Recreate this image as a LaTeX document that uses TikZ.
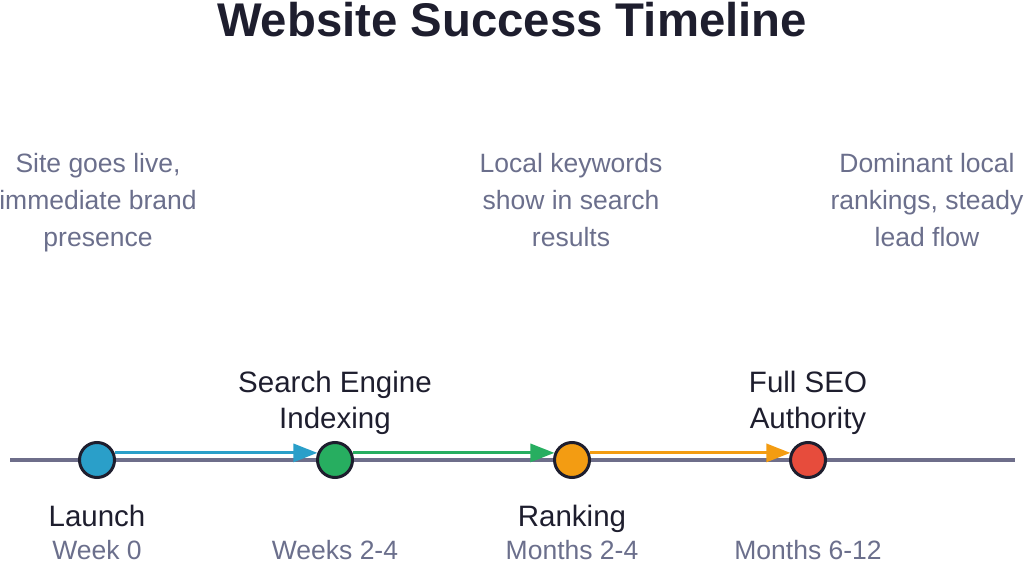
\documentclass[tikz,border=0pt]{standalone}
\usepackage{fontspec}
\setmainfont{Liberation Sans}
\usetikzlibrary{arrows.meta,positioning}
\definecolor{titledark}{HTML}{1E1E2E}
\definecolor{textgray}{HTML}{6B6F8C}
\definecolor{axisgray}{HTML}{6E6E8A}
\definecolor{markblue}{HTML}{2A9FC9}
\definecolor{markgreen}{HTML}{27AE60}
\definecolor{markorange}{HTML}{F39C12}
\definecolor{markred}{HTML}{E74C3C}
\begin{document}
\begin{tikzpicture}[x=1pt,y=-1pt,every node/.style={align=center,inner sep=0pt},
  milestone/.style={circle,draw=titledark,line width=3pt,minimum size=35pt,inner sep=0pt},
  desc/.style={anchor=north,text=textgray,font=\fontsize{26.5}{37}\selectfont},
  lbl/.style={text=titledark,font=\fontsize{29.5}{36}\selectfont},
  when/.style={anchor=base,text=textgray,font=\fontsize{26.5}{32}\selectfont},
  stage/.style={line width=3pt,-{Triangle[length=24pt,width=18pt]}}]
\useasboundingbox (0,0) rectangle (1024,561);
\node[font=\fontsize{47.3}{50}\selectfont\bfseries,text=titledark] (title) at (512,20) {Website Success Timeline};
% timeline axis
\coordinate (axisL) at (10,460); \coordinate (axisR) at (1015,460);
\draw[axisgray,line width=4pt] (axisL) -- (axisR);
\node[milestone,fill=markblue] (launch) at (97,460) {};
\node[milestone,fill=markgreen] (indexing) at (335,460) {};
\node[milestone,fill=markorange] (ranking) at (572,460) {};
\node[milestone,fill=markred] (authority) at (808,460) {};
\draw[stage,markblue] (launch.22) -- (indexing.158); \draw[stage,markgreen] (indexing.22) -- (ranking.158); \draw[stage,markorange] (ranking.22) -- (authority.158);
% labels
\node[lbl,anchor=base] (launchlbl) at (97,526) {Launch};
\node[lbl,anchor=south] (indexinglbl) at (335,435) {Search Engine\\Indexing};
\node[lbl,anchor=base] (rankinglbl) at (572,526) {Ranking};
\node[lbl,anchor=south] (authoritylbl) at (808,435) {Full SEO\\Authority};
\node[when] (launchwhen) at (97,559) {Week 0};
\node[when] (indexingwhen) at (335,559) {Weeks 2-4};
\node[when] (rankingwhen) at (572,559) {Months 2-4};
\node[when] (authoritywhen) at (808,559) {Months 6-12};
% descriptions
\node[desc] (launchdesc) at (98,153) {Site goes live,\\immediate brand\\presence};
\node[desc] (rankingdesc) at (571,153) {Local keywords\\show in search\\results};
\node[desc] (authoritydesc) at (927,153) {Dominant local\\rankings, steady\\lead flow};
\end{tikzpicture}
\end{document}
